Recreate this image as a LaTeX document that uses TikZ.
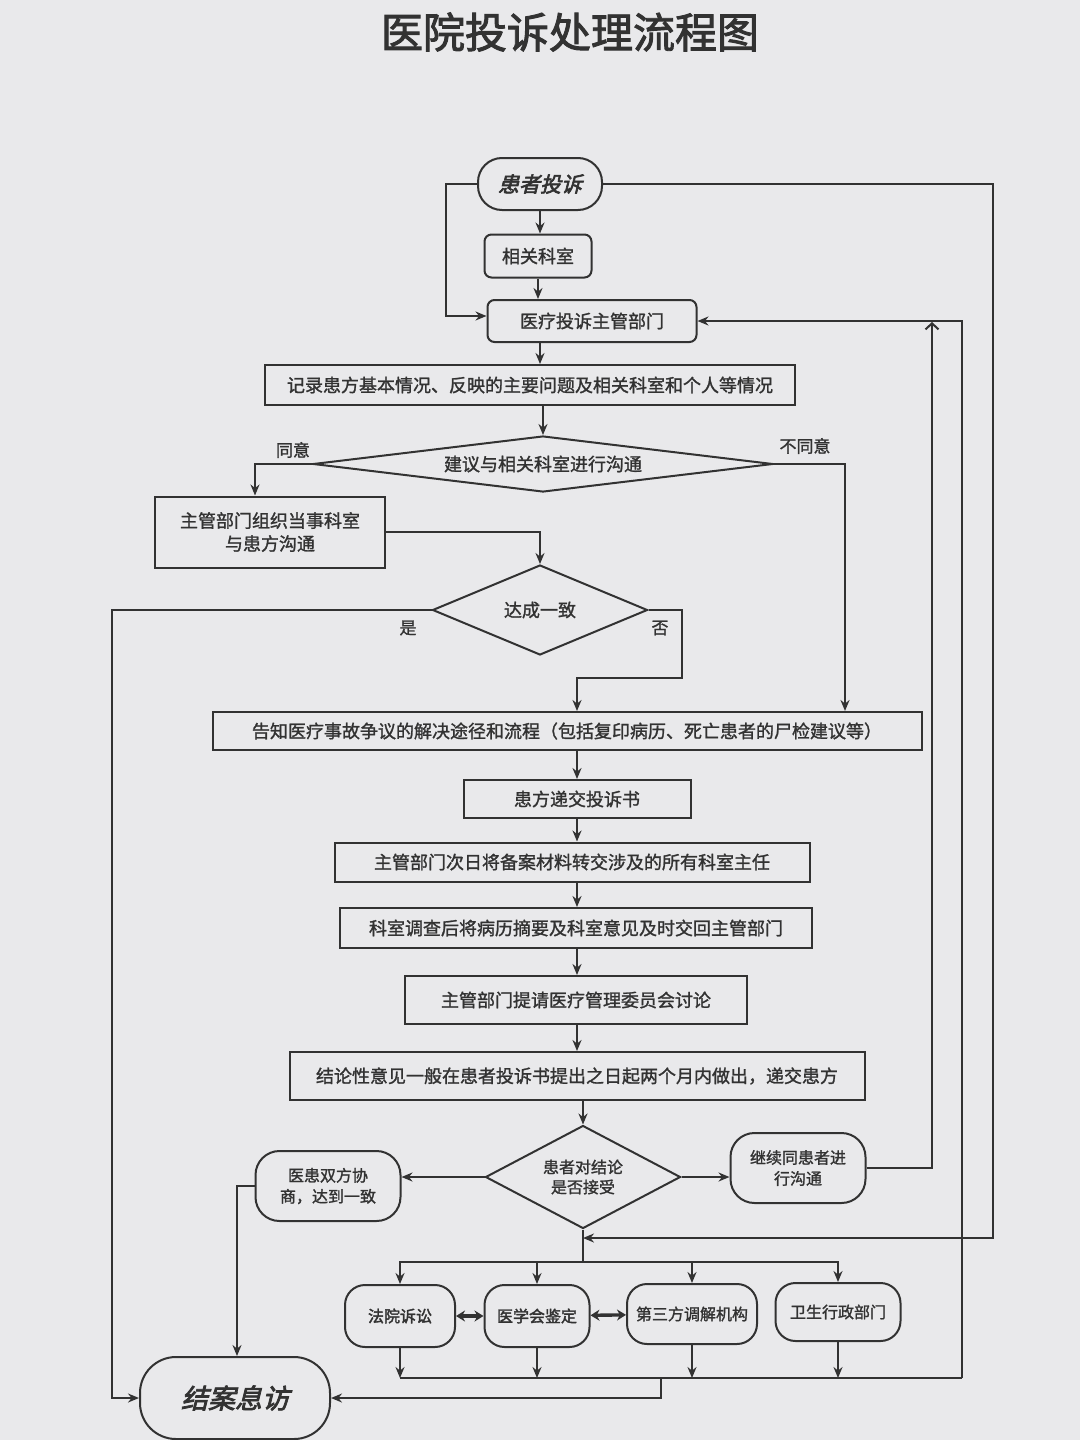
\documentclass[tikz,border=0pt]{standalone}
\usepackage{fontspec}
\setmainfont{Noto Sans CJK SC}[FakeBold=1.4]
\newfontfamily\cjkslant{Noto Sans CJK SC}[FakeSlant=0.25,FakeBold=2.8]
\newfontfamily\cjkheavy{Noto Sans CJK SC}[FakeBold=2.2]
\usetikzlibrary{arrows.meta,shapes.geometric}
\definecolor{paper}{RGB}{233,233,235}
\definecolor{ink}{RGB}{50,50,50}

\begin{document}
\begin{tikzpicture}[x=1pt,y=-1pt,->,>={Stealth[length=11pt,width=9pt]},line width=2pt,color=ink,
  box node/.style={draw,rectangle,inner sep=2pt,font=\fontsize{18pt}{23pt}\selectfont,align=center},
  round node/.style={box node,rounded corners=7pt},
  term node/.style={box node,rounded corners=24pt},
  choice node/.style={box node,diamond,inner sep=0pt},
  side label/.style={font=\fontsize{17pt}{20pt}\selectfont},
  both way/.style={{Stealth[length=9pt,width=11pt]}-{Stealth[length=9pt,width=11pt]},line width=3.4pt}]

  \fill[paper,-] (0,0) rectangle (1080,1440);
  \useasboundingbox (0,0) rectangle (1080,1440);

  \node[font=\cjkheavy\fontsize{42pt}{46pt}\selectfont] (title) at (570,32) {医院投诉处理流程图};

  \node[term node,minimum width=124pt,minimum height=52pt,font=\cjkslant\fontsize{21pt}{24pt}\selectfont] (complain) at (540,184) {患者投诉};
  \node[round node,minimum width=107pt,minimum height=43pt] (dept) at (538,256) {相关科室};
  \node[round node,minimum width=209pt,minimum height=42pt] (office) at (592,321) {医疗投诉主管部门};
  \node[box node,minimum width=530pt,minimum height=40pt] (record) at (530,385) {记录患方基本情况、反映的主要问题及相关科室和个人等情况};
  \node[choice node,aspect=8.2,minimum width=460pt,minimum height=56pt] (talk) at (543,464) {建议与相关科室进行沟通};
  \node[box node,minimum width=230pt,minimum height=71pt] (organize) at (270,532) {主管部门组织当事科室\\与患方沟通};
  \node[choice node,aspect=2.4,minimum width=215pt,minimum height=90pt] (agree) at (540,610) {达成一致};
  \node[box node,minimum width=709pt,minimum height=38pt] (inform) at (567,731) {告知医疗事故争议的解决途径和流程（包括复印病历、死亡患者的尸检建议等）};
  \node[box node,minimum width=227pt,minimum height=38pt] (submit) at (577,799) {患方递交投诉书};
  \node[box node,minimum width=475pt,minimum height=39pt] (transfer) at (572,862) {主管部门次日将备案材料转交涉及的所有科室主任};
  \node[box node,minimum width=472pt,minimum height=40pt] (survey) at (576,928) {科室调查后将病历摘要及科室意见及时交回主管部门};
  \node[box node,minimum width=342pt,minimum height=48pt] (discuss) at (576,1000) {主管部门提请医疗管理委员会讨论};
  \node[box node,minimum width=575pt,minimum height=48pt] (verdict) at (577,1076) {结论性意见一般在患者投诉书提出之日起两个月内做出，递交患方};
  \node[choice node,aspect=1.9,minimum width=195pt,minimum height=103pt,font=\fontsize{16pt}{20pt}\selectfont] (accept) at (583,1177) {患者对结论\\是否接受};
  \node[term node,minimum width=145pt,minimum height=70pt,font=\fontsize{16pt}{21pt}\selectfont] (consult) at (328,1186) {医患双方协\\商，达到一致};
  \node[term node,minimum width=135pt,minimum height=70pt,font=\fontsize{16pt}{21pt}\selectfont] (continue) at (798,1168) {继续同患者进\\行沟通};
  \node[term node,rounded corners=20pt,minimum width=110pt,minimum height=62pt,font=\cjkheavy\fontsize{16pt}{20pt}\selectfont] (court) at (400,1316) {法院诉讼};
  \node[term node,rounded corners=20pt,minimum width=105pt,minimum height=62pt,font=\cjkheavy\fontsize{16pt}{20pt}\selectfont] (med) at (537,1316) {医学会鉴定};
  \node[term node,rounded corners=20pt,minimum width=130pt,minimum height=60pt,font=\fontsize{16pt}{20pt}\selectfont] (third) at (692,1314) {第三方调解机构};
  \node[term node,rounded corners=20pt,minimum width=125pt,minimum height=58pt,font=\fontsize{16pt}{20pt}\selectfont] (health) at (838,1312) {卫生行政部门};
  \node[term node,rounded corners=36pt,minimum width=190pt,minimum height=82pt,font=\cjkslant\fontsize{27pt}{30pt}\selectfont] (close) at (235,1398) {结案息访};

  \node[side label] (yesA) at (293,450) {同意};
  \node[side label] (noA) at (805,446) {不同意};
  \node[side label] (yesB) at (408,628) {是};
  \node[side label] (noB) at (660,628) {否};

  \coordinate (join) at (583,1238);
  \coordinate (fork) at (583,1262);
  \coordinate (outM) at (661,1378);
  \coordinate (outR) at (962,1378);
  \coordinate (upEnd) at (932,322);

  \draw (complain) -- (complain |- dept.north);
  \draw (dept.south) -- (dept.south |- office.north);
  \draw (complain.west) -- ++(-31,0) |- ([yshift=5pt]office.west);
  \draw ([xshift=-52pt]office.south) -- ([xshift=-52pt]office.south |- record.north);
  \draw ([xshift=13pt]record.south) -- (talk.north);
  \draw (talk.west) -| ([xshift=-15pt]organize.north);
  \draw (talk.east) -| ([xshift=278pt]inform.north);
  \draw (organize.east) -| (agree.north);
  \draw (agree.west) -- ++(-320,0) |- (close.west);
  \draw (agree.east) -- ++(33,0) -- ++(0,68) -| ([xshift=10pt]inform.north);
  \draw ([xshift=10pt]inform.south) -- (submit);
  \draw (submit) -- (submit |- transfer.north);
  \draw (submit |- transfer.south) -- (submit |- survey.north);
  \draw (submit |- survey.south) -- (submit |- discuss.north);
  \draw (submit |- discuss.south) -- (submit |- verdict.north);
  \draw (verdict.south -| accept) -- (accept.north);
  \draw (accept.west) -- (accept.west -| consult.east);
  \draw (accept.east) -- (accept.east -| continue.west);
  \draw[-{Straight Barb[length=6pt,width=13pt]}] (continue.east) -| (upEnd);
  \draw (consult.west) -| ([xshift=2pt]close.north);

  \draw (complain.east) -- ++(390,0) |- (join);
  \draw[-] (accept.south) -- (fork);
  \draw (fork) -| (court.north);
  \draw (fork) -| (health.north);
  \draw (med.north |- fork) -- (med.north);
  \draw (third.north |- fork) -- (third.north);
  \draw[both way] (court) -- (med);
  \draw[both way] (med) -- (third);

  \draw (court.south) -- (court.south |- outR);
  \draw (med.south) -- (med.south |- outR);
  \draw (third.south) -- (third.south |- outR);
  \draw (health.south) -- (health.south |- outR);
  \draw[-] (court.south |- outR) -- (outR);
  \draw (outR) |- (office.east);
  \draw (outM) |- (close.east);

\end{tikzpicture}
\end{document}
